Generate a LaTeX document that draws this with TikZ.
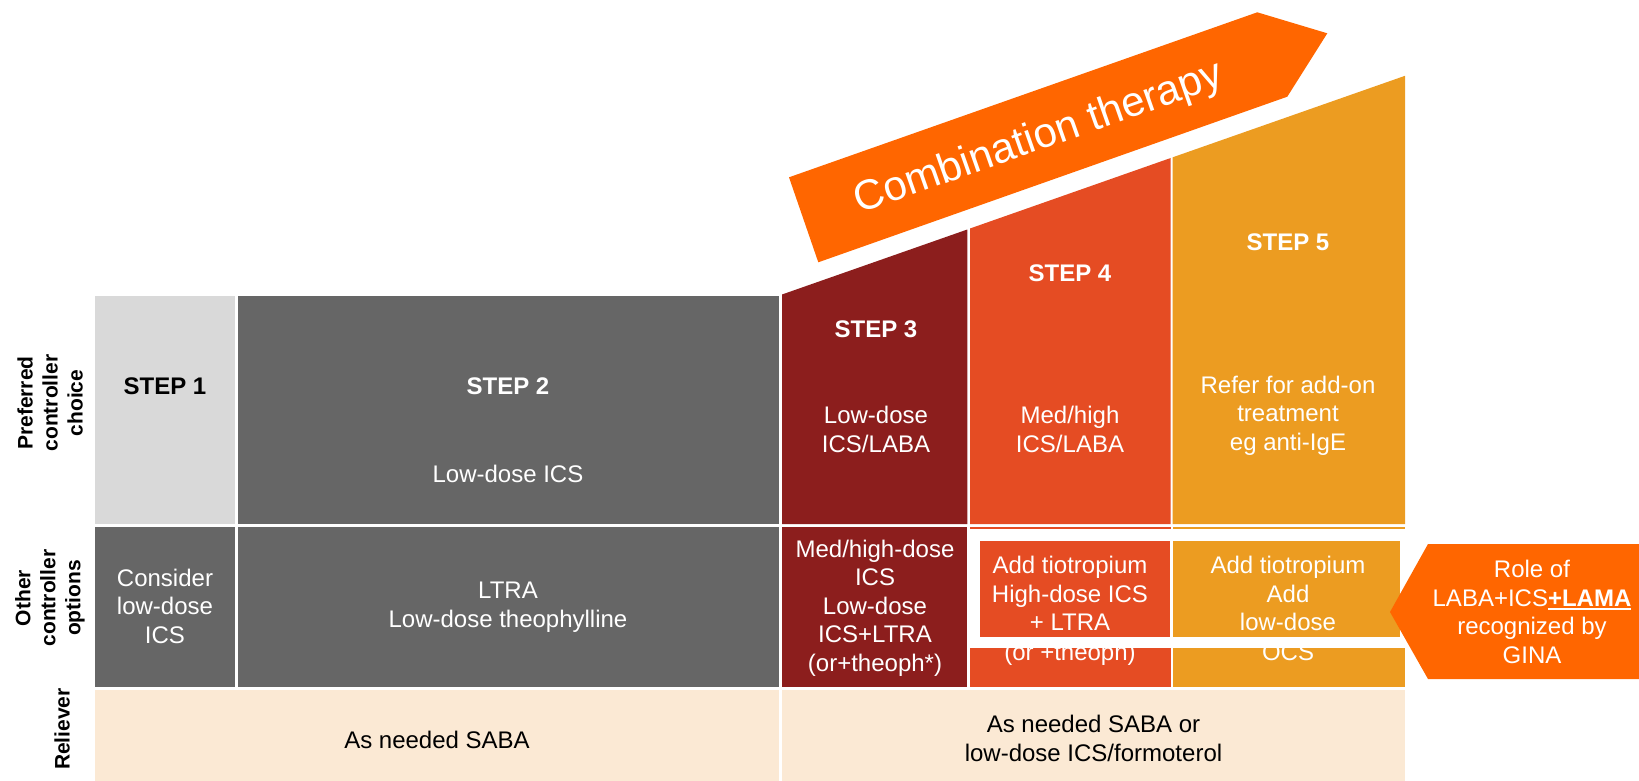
\documentclass[tikz,border=0pt]{standalone}
\usepackage{fontspec}
\setmainfont{Liberation Sans}
\definecolor{lightstep}{HTML}{D9D9D9}
\definecolor{darkgray}{HTML}{666666}
\definecolor{stepred}{HTML}{8C1E1D}
\definecolor{steporange}{HTML}{E54C23}
\definecolor{stepyellow}{HTML}{EC9C21}
\definecolor{accent}{HTML}{FF6600}
\definecolor{relief}{HTML}{FBE9D4}
% thick underline for emphasised words
\newcommand\thickul[1]{\leavevmode\setbox0\hbox{#1}\rlap{\rule[-3.5pt]{\wd0}{2pt}}\box0}
\begin{document}
\begin{tikzpicture}[x=1pt,y=-1pt,
  txt/.style={font=\fontsize{24}{28.5}\selectfont, align=center, text=white, inner sep=0pt},
  steplbl/.style={font=\fontsize{24}{28.5}\selectfont\bfseries, text=white, inner sep=0pt},
  rowlbl/.style={font=\fontsize{21}{25}\selectfont\bfseries, align=center, rotate=90, inner sep=0pt},
  bigtxt/.style={font=\fontsize{42}{48}\selectfont, text=white, inner sep=0pt}]
\useasboundingbox (0,0) rectangle (1639,781);

% row 1: preferred controller choice
\fill[lightstep] (95,296) rectangle (235,524);
\fill[darkgray] (237.7,296) rectangle (779,524);
\fill[stepred] (782,524) -- (782,294.5) -- (967.3,229.5) -- (967.3,524) -- cycle;
\fill[steporange] (970,524) -- (970,228.5) -- (1170.7,158) -- (1170.7,524) -- cycle;
\fill[stepyellow] (1172.7,524) -- (1172.7,157.3) -- (1405,75.8) -- (1405,524) -- cycle;

% row 2: other controller options
\fill[darkgray] (95,527) rectangle (235,687.3);
\fill[darkgray] (237.7,527) rectangle (779,687.3);
\fill[stepred] (782,527) rectangle (967.3,687.3);
\fill[steporange] (970,527) rectangle (1170.7,687.3);
\fill[stepyellow] (1172.7,527) rectangle (1405,687.3);

% row 3: reliever
\fill[relief] (95,690) rectangle (779,781);
\fill[relief] (782,690) rectangle (1405,781);

% combination therapy banner
\fill[accent] (789,177.3) -- (1257.3,12.3) -- (1327.3,33.3) -- (1287.3,96.7) -- (818.3,262.3) -- cycle;
\node[bigtxt, rotate=19.4] (combo) at (1039,139) {Combination therapy};

% step headings
\node[steplbl, text=black] (s1) at (165,386) {STEP 1};
\node[steplbl] (s2) at (508,386) {STEP 2};
\node[steplbl] (s3) at (876,329) {STEP 3};
\node[steplbl] (s4) at (1070,273) {STEP 4};
\node[steplbl] (s5) at (1288,242.5) {STEP 5};

% preferred controllers
\node[txt] (p2) at (508,473.5) {Low-dose ICS};
\node[txt] (p3) at (876,429.5) {Low-dose\\ICS/LABA};
\node[txt] (p4) at (1070,429.5) {Med/high\\ICS/LABA};
\node[txt] (p5) at (1288,415.5) {Refer for add-on\\treatment\\eg anti-IgE};

% other controller options
\node[txt] (o1) at (165,606) {Consider\\low-dose\\ICS};
\node[txt] (o2) at (508,607) {LTRA\\Low-dose theophylline};
\node[txt] (o3) at (875,608) {Med/high-dose\\ICS\\Low-dose\\ICS+LTRA\\(or+theoph*)};
\node[txt, anchor=base] (o4) at (1070,660) {(or +theoph)};
\node[txt, anchor=base] (o5) at (1288,660) {OCS};

% highlighted add-on options
\fill[white] (970,529) rectangle (1405,648);
\fill[steporange] (980,541) rectangle (1170,636.7);
\fill[stepyellow] (1172.7,541) rectangle (1400,636.7);
\node[txt] (h4) at (1070,593.5) {Add tiotropium\\High-dose ICS\\+ LTRA};
\node[txt] (h5) at (1288,593.5) {Add tiotropium\\Add\\low-dose};

% relievers
\node[txt, text=black] (r1) at (437,740) {As needed SABA};
\node[txt, text=black] (r2) at (1093.5,738.5) {As needed SABA or\\low-dose ICS/formoterol};

% row labels
\node[rowlbl] (lp) at (50,403) {Preferred\\controller\\choice};
\node[rowlbl] (lo) at (50,598) {Other\\controller\\options};
\node[rowlbl] (lr) at (62,729) {Reliever};

% GINA callout
\fill[accent] (1390,612) -- (1428,544) -- (1639,544) -- (1639,679) -- (1428,679) -- cycle;
\node[txt] (gina) at (1532,612) {Role of\\LABA+ICS\thickul{\bfseries +LAMA}\\recognized by\\GINA};
\end{tikzpicture}
\end{document}
